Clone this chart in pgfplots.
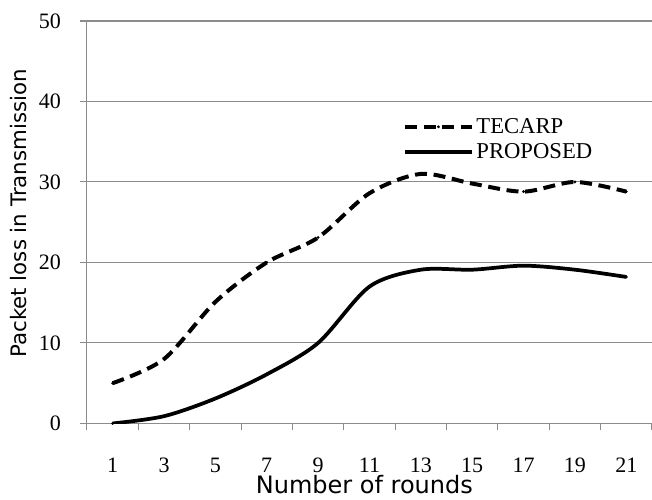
\documentclass[border=0pt]{standalone}
\usepackage{pgfplots}
\pgfplotsset{compat=1.18}
\usepackage{fontspec}
\setmainfont{Liberation Serif}
\newfontfamily\labelfont{DejaVu Sans}
\definecolor{gridgray}{RGB}{140,140,140}

\begin{document}
\begin{tikzpicture}
\begin{axis}[
    scale only axis,
    width=424pt, height=302pt,
    xmin=0, xmax=22, ymin=0, ymax=50,
    axis lines*=left,
    axis line style={gridgray, line width=0.8pt},
    tick align=outside,
    major tick length=5pt,
    tick style={gridgray, line width=0.8pt},
    xtick={0,2,...,22}, xticklabels={},
    extra x ticks={1,3,...,21},
    extra x tick labels={1,3,5,7,9,11,13,15,17,19,21},
    extra x tick style={tick style={draw=none}},
    ytick={0,10,...,50},
    ymajorgrids,
    grid style={gridgray, line width=0.8pt},
    /pgf/number format/assume math mode=true,
    tick label style={font=\fontsize{16.5}{19}\selectfont},
    xticklabel style={yshift=-17.5pt},
    yticklabel style={xshift=-11pt},
    xlabel={Number of rounds},
    ylabel={Packet loss in Transmission},
    xlabel style={font=\labelfont\fontsize{18}{21}\selectfont, at={(axis description cs:0.491,-0.117)}, anchor=north},
    ylabel style={font=\labelfont\fontsize{16}{19}\selectfont, at={(axis description cs:-0.098,0.522)}, anchor=south},
    legend style={at={(axis description cs:0.552,0.772)}, anchor=north west, draw=none, fill=none,
        font=\fontsize{17}{20}\selectfont, row sep=2pt},
    legend cell align=left,
    legend image code/.code={\draw[#1, mark=none] (0pt,0pt) -- (50pt,0pt);
        \draw[#1, solid, only marks] plot coordinates {(25pt,0pt)};},
]
\addplot[black, line width=3pt, dash pattern=on 9pt off 5pt, smooth, tension=0.5,
    mark=*, mark size=0.8pt, mark options={solid, line width=0.5pt}]
    coordinates {(1,5) (3,8) (5,15.1) (7,20) (9,23.1) (11,28.6) (13,31) (15,29.8) (17,28.8) (19,30) (21,28.8)};
\addlegendentry{TECARP}
\addplot[black, line width=2.8pt, smooth, tension=0.5, mark=*, mark size=0.8pt, mark options={line width=0.5pt}]
    coordinates {(1,0) (3,0.9) (5,3.1) (7,6.1) (9,10) (11,17) (13,19.1) (15,19.1) (17,19.6) (19,19.1) (21,18.2)};
\addlegendentry{PROPOSED}
\end{axis}
\pgfresetboundingbox
\path ([xshift=-65.25pt,yshift=-57pt]current axis.south west) rectangle ([yshift=15.75pt]current axis.north east);
\end{tikzpicture}
\end{document}
